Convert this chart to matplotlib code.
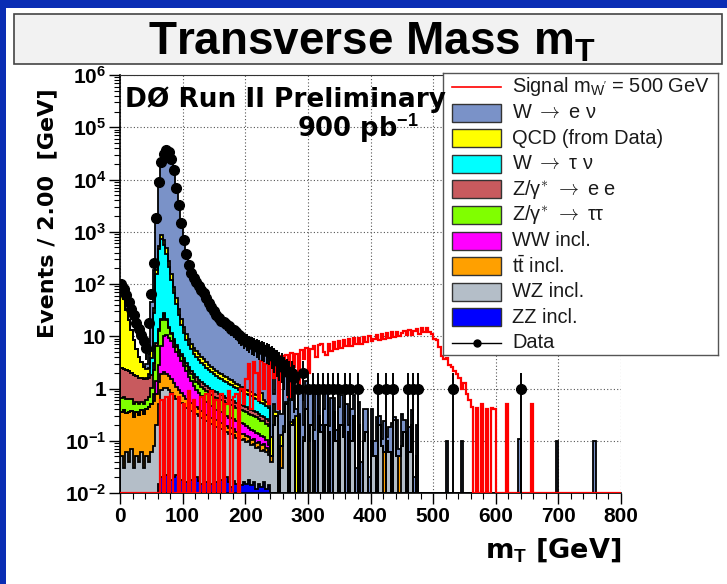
import numpy as np
import matplotlib
matplotlib.use("Agg")
import matplotlib.pyplot as plt
from matplotlib.patches import Rectangle
from matplotlib.ticker import MultipleLocator, LogLocator, NullFormatter

plt.rcParams['font.family'] = ['Liberation Sans', 'DejaVu Sans']
plt.rcParams['mathtext.fontset'] = 'custom'
plt.rcParams['mathtext.rm'] = 'Liberation Sans'
plt.rcParams['mathtext.it'] = 'Liberation Sans:italic'
plt.rcParams['mathtext.bf'] = 'Liberation Sans:bold'

W, H = 727, 584

# histogram binning: 4 GeV bins over 0-800 GeV, all lists start at mT = 0
bin_width = 4
n_bins = 200
floor = 1e-2

# ---- stacked backgrounds (events per bin), bottom of the stack first ----
zz = [0, 0, 0, 0, 0, 0, 0, 0, 0, 0, 0, 0, 0, 0, 0,
      0.015, 0.02, 0.025, 0.022, 0.02, 0.018, 0.02, 0.022, 0.02, 0.018,
      0.02, 0.016, 0.02, 0.018, 0.015, 0.02, 0.017, 0.015, 0.02, 0.016,
      0.018, 0.015, 0.02, 0.016, 0.014, 0.018, 0.015, 0.02, 0.016, 0.013,
      0.017, 0.015, 0.02, 0.014, 0.016, 0.015, 0.018, 0.014, 0.016, 0.012,
      0.015, 0.013, 0.016, 0.012, 0.014]

wz = [0.05, 0.03, 0.06, 0.04, 0.07, 0.03, 0.05, 0.04, 0.06, 0.03, 0.05, 0.04, 0.06, 0.08, 0.2,
      0.5, 0.9, 1.0, 1.0, 0.9, 0.8, 0.7, 0.6, 0.55, 0.5, 0.45, 0.4, 0.38, 0.35, 0.32,
      0.3, 0.28, 0.26, 0.24, 0.22, 0.2, 0.19, 0.18, 0.17, 0.16, 0.15, 0.14, 0.13, 0.12, 0.12,
      0.11, 0.1, 0.1, 0.09, 0.09, 0.08, 0.08, 0.07, 0.07, 0.06, 0.06, 0.05, 0.05, 0.05, 0.04,
      0.04, 0.2, 0.3, 0, 0.03, 0.15, 0.5, 0, 0.2, 0.25, 0, 0.3, 0, 0.1, 0.4,
      0, 0.2, 0.1, 0, 0.3, 0.15, 0, 0.2, 0.1, 0, 0.35, 0.1, 0, 0.2, 0.12,
      0, 0.15, 0.1, 0.3, 0, 0.12, 0, 0.1, 0.15, 0, 0.1, 0.05, 0, 0.2, 0.08,
      0, 0.1, 0.06, 0, 0.25, 0.05, 0, 0.08, 0.15, 0, 0.06, 0.2, 0, 0.05, 0]

ttbar = [0.3, 0.35, 0.28, 0.32, 0.3, 0.26, 0.3, 0.27, 0.32, 0.3, 0.35, 0.4, 0.45, 0.5, 0.6,
         0.8, 1.0, 1.0, 0.9, 0.8, 0.7, 0.55, 0.45, 0.35, 0.3, 0.25, 0.2, 0.17, 0.15, 0.13,
         0.12, 0.11, 0.1, 0.09, 0.08, 0.07, 0.07, 0.06, 0.06, 0.05, 0.05, 0.05, 0.04, 0.04, 0.04,
         0.04, 0.03, 0.03, 0.03, 0.03, 0.03, 0.02, 0.02, 0.02, 0.02, 0.02, 0.02, 0.02, 0.01, 0.01,
         0.01, 0, 0, 0, 0.05, 0, 0, 0, 0, 0, 0, 0, 0, 0, 0,
         0.1, 0, 0, 0, 0, 0, 0, 0, 0.05, 0, 0, 0, 0, 0, 0,
         0, 0, 0, 0, 0, 0.08, 0, 0, 0, 0, 0, 0, 0, 0, 0,
         0.06, 0, 0, 0, 0, 0, 0.05, 0, 0, 0, 0, 0, 0, 0, 0]

ww = [0, 0, 0, 0, 0, 0, 0, 0, 0, 0, 0, 0, 0, 0.2, 0.6,
      1.5, 4.5, 8.0, 8.5, 7.5, 6.5, 5.0, 4.0, 3.2, 2.6, 2.0, 1.5, 1.1, 0.85, 0.65,
      0.5, 0.4, 0.33, 0.27, 0.23, 0.2, 0.18, 0.16, 0.15, 0.14, 0.13, 0.12, 0.11, 0.1, 0.1,
      0.09, 0.09, 0.08, 0.08, 0.07, 0.07, 0.06, 0.06, 0.05, 0.05, 0.04, 0.04, 0.03, 0.03, 0.02]

ztautau = [0.3, 0.3, 0.28, 0.26, 0.25, 0.22, 0.2, 0.2, 0.18, 0.18, 0.2, 0.25, 0.5, 1.5, 5.0,
           10, 14, 17, 10, 5, 3, 1.8, 1.2, 0.9, 0.8, 0.7, 0.6, 0.55, 0.5, 0.45,
           0.42, 0.4, 0.38, 0.36, 0.34, 0.32, 0.3, 0.28, 0.27, 0.26, 0.25, 0.24, 0.23, 0.22, 0.21,
           0.2, 0.19, 0.18, 0.17, 0.17, 0.16, 0.15, 0.15, 0.14, 0.14, 0.13, 0.12, 0.12, 0.11, 0.11]

zee = [1.8, 1.7, 1.6, 1.5, 1.4, 1.3, 1.2, 1.1, 1.0, 1.0, 0.9, 0.9, 0.8, 0.8, 0.9,
       1.0, 1.2, 1.2, 1.0, 0.8, 0.7, 0.6, 0.55, 0.5, 0.45, 0.4, 0.38, 0.35, 0.33, 0.3,
       0.28, 0.26, 0.25, 0.24, 0.22, 0.21, 0.2, 0.19, 0.18, 0.17, 0.16, 0.15, 0.14, 0.13, 0.12,
       0.12, 0.11, 0.1, 0.1, 0.09, 0.09, 0.08, 0.08, 0.07, 0.07, 0.06, 0.06, 0.05, 0.05, 0.05]

wtaunu = [0, 0, 0, 0, 0, 0, 0, 0, 0, 0, 0.1, 0.3, 2, 25, 150,
          450, 700, 520, 360, 200, 110, 60, 34, 20, 12, 7.5, 5.5, 4.2, 3.4, 2.8,
          2.4, 2.1, 1.8, 1.6, 1.4, 1.25, 1.1, 1.0, 0.9, 0.8, 0.75, 0.7, 0.65, 0.6, 0.55,
          0.5, 0.47, 0.44, 0.4, 0.37, 0.35, 0.33, 0.31, 0.29, 0.27, 0.25, 0.23, 0.21, 0.2, 0.18]

qcd = [78, 50, 30, 18, 11, 6.5, 4, 2.4, 1.6, 1.1, 0.8, 0.6, 1.5, 6, 25,
       80, 160, 140, 100, 60, 35, 20, 12, 8, 5, 3.5, 2.6, 2.0, 1.6, 1.3,
       1.1, 1.0, 0.9, 0.8, 0.7, 0.6, 0.55, 0.5, 0.45, 0.4, 0.38, 0.35, 0.32, 0.3, 0.28,
       0.26, 0.24, 0.22, 0.2, 0.18, 0.16, 0.15, 0.14, 0.13, 0.12, 0.11, 0.3, 0.1, 0.09, 0.08,
       0.07, 0.3, 0.06, 0.05, 0.05, 0.04, 0.04, 0, 0.03, 0, 0.3, 0.03, 0, 0.02, 0]

wenu = [0, 0, 0, 0, 0, 0, 0, 0, 0, 0, 0.5, 2, 40, 150, 1300,
        8400, 21000, 31400, 35500, 33700, 24800, 14900, 6950, 3150, 1480, 690, 370, 222, 158, 124,
        103, 88, 74, 63, 52, 42, 34, 28, 23, 20, 18, 16.5, 15, 13.8, 12.5,
        11.5, 10.5, 9.2, 8.3, 7.5, 7.0, 6.6, 6.2, 6.0, 5.6, 5.3, 5.0, 4.8, 4.5, 4.3,
        4.0, 0.3, 3.6, 2.6, 0.2, 2.2, 2.4, 0.15, 1.9, 1.2, 0.1, 1.3, 0.9, 0.08, 1.0,
        0.7, 0.9, 0.06, 0.8, 0.6, 0.05, 0.4, 0.7, 0.04, 0.65, 0.3, 0.06, 0.45, 0.55, 0.03,
        0.5, 0.05, 0.3, 0.45, 0.03, 0.35, 0.04, 0.3, 0.25, 0.02, 0.3, 0.05, 0.28, 0.1, 0.03,
        0.18, 0.02, 0.12, 0.22, 0.04, 0.2, 0.02, 0.25, 0.1, 0.03, 0.12, 0.18, 0.02, 0.15, 0]
# isolated W -> e nu tail entries beyond 480 GeV
wenu_far_mt = [520, 544, 636, 696, 756]
wenu_far = [0.1, 0.1, 0.11, 0.1, 0.1]

# ---- signal W' (m = 500 GeV) ----
signal = [0, 0, 0, 0, 0, 0, 0, 0, 0, 0, 0, 0, 0, 0, 0, 0,
          0.6, 0, 0.7, 0,
          0.8, 0, 0, 0.7, 0, 0.5, 0, 0.9, 0, 0.6,
          0, 0, 0.7, 0, 0.8, 0, 0.9, 0, 0.6, 0,
          0.8, 0, 0.5, 0.9, 0, 0.7, 0.8, 0, 1.0, 0.5,
          1.5, 3.0, 0.4, 3.2, 2.0, 0.6, 3.4, 1.0, 3.0, 0.5,
          3.6, 1.6, 3.8, 0.4, 4.2, 1.8, 4.4, 0.7, 4.8, 2.6,
          4.6, 1.2, 5.4, 3.6, 6.0, 2.0, 5.6, 6.6, 4.0, 6.8,
          7.0, 5.0, 4.4, 7.2, 5.2, 7.6, 5.6, 8.0, 6.0, 8.4,
          6.4, 8.8, 6.6, 9.2, 7.0, 9.4, 7.2, 9.8, 7.6, 10.2,
          8.0, 9.0, 10.6, 8.4, 11.0, 8.8, 11.4, 9.4, 11.8, 9.6,
          12.2, 10.0, 11.6, 12.8, 10.4, 13.2, 10.8, 12.4, 13.8, 11.2,
          14.2, 11.8, 14.4, 12.0, 11.0, 9.0, 8.4, 6.2, 4.2, 3.6,
          3.9, 2.8, 2.6, 2.2, 1.9, 1.6, 1.0, 1.3, 0.8, 0.6,
          0.45, 0, 0.42, 0, 0.5, 0, 0.4, 0, 0.42, 0.4,
          0, 0, 0, 0, 0.5, 0, 0, 0, 0, 0,
          0, 0, 0, 0, 0.5, 0]

# ---- data ----
data_counts = [100, 80, 62, 45, 33, 25, 18, 14, 10.5, 8, 6, 18, 65, 250, 1800,
               9000, 22000, 31000, 36000, 34000, 25000, 15000, 7000, 3200, 1500, 700, 380, 230, 165, 130,
               108, 92, 78, 66, 54, 44, 36, 30, 25, 22, 20, 18.5, 17, 15.5, 14,
               13, 12, 10.5, 9.5, 8.5, 8, 7.5, 7, 6.8, 6.4, 6, 5.8, 5.5, 5.2, 5,
               4.5, 4, 3.5, 3.2, 3, 2.5, 2.2, 2, 2, 1.6]
data_single_mt = [282, 290, 298, 306, 314, 322, 330, 338, 346, 358,
                  366, 378, 410, 422, 434, 458, 466, 474, 530, 638]
data_single_n = [1, 2, 1, 1, 1, 1, 1, 1, 1, 1, 1, 1, 1, 1, 1, 1, 1, 1, 1, 1]

names = ["Signal m$_{\\mathrm{W'}}$ = 500 GeV", "W $\\rightarrow$ e ν", "QCD (from Data)",
         "W $\\rightarrow$ τ ν", "Z/γ$^{*}$ $\\rightarrow$ e e", "Z/γ$^{*}$ $\\rightarrow$ ττ",
         "WW incl.", "t$\\bar{\\mathrm{t}}$ incl.", "WZ incl.", "ZZ incl.", "Data"]
colors = ['#7a92c8', '#ffff00', '#00ffff', '#c85a5e', '#80ff00',
          '#ff00ff', '#ffa000', '#b4bec8', '#0000ff']   # W->enu ... ZZ


def padded(vals):
    out = np.zeros(n_bins)
    out[:len(vals)] = vals
    return out


edges = np.arange(0, n_bins + 1) * bin_width
wenu_full = padded(wenu)
wenu_full[np.array(wenu_far_mt) // bin_width] = wenu_far

layers = [padded(zz), padded(wz), padded(ttbar), padded(ww), padded(ztautau),
          padded(zee), padded(wtaunu), padded(qcd), wenu_full]
stack = np.cumsum(np.vstack(layers), axis=0)
layer_colors = colors[::-1]

fig = plt.figure(figsize=(W / 100, H / 100), dpi=100, facecolor='#0a2db4')
fig.add_artist(Rectangle((6 / W, 0), 1 - 6 / W, 1 - 8 / H, transform=fig.transFigure,
                         facecolor='white', edgecolor='none', zorder=-10))
fig.add_artist(Rectangle((14 / W, 1 - 64 / H), 708 / W, 50 / H, transform=fig.transFigure,
                         facecolor='#f2f2f2', edgecolor='#444444', lw=1.2, zorder=-5))
fig.text(372 / W, 1 - 55 / H, r"Transverse Mass m$_{\mathbf{T}}$", ha='center', va='baseline',
         fontsize=33, fontweight='bold')

ax = fig.add_axes([120 / W, 1 - 493 / H, 501 / W, 418 / H])
ax.set_yscale('log')
ax.set_xlim(0, 800)
ax.set_ylim(floor, 1e6)
ax.set_axisbelow(True)
ax.grid(True, which='major', ls=(0, (1, 2)), color='#555555', lw=0.8)

# stacked histograms, outermost first so the lower layers sit on top
for k in range(len(layers) - 1, -1, -1):
    top = np.maximum(stack[k], floor)
    ax.stairs(top, edges, baseline=floor, fill=True, color=layer_colors[k], zorder=1)
    ax.stairs(top, edges, baseline=floor, color='black', lw=1.3, zorder=1.1)

sig = np.maximum(padded(signal), floor)
ax.stairs(sig, edges, baseline=None, color='red', lw=1.6, zorder=3)

n_dense = np.array(data_counts, dtype=float)
x_dense = edges[:len(n_dense)] + bin_width / 2
x_data = np.concatenate([x_dense, np.array(data_single_mt) + bin_width / 2])
n_data = np.concatenate([n_dense, np.array(data_single_n, dtype=float)])
err = np.sqrt(n_data)
err_lo = n_data - np.maximum(n_data - err, floor)
ax.errorbar(x_data, n_data, yerr=[err_lo, err], fmt='o', color='black', ms=7,
            elinewidth=1.4, capsize=0, zorder=4)

ax.set_xticks(np.arange(0, 801, 100))
ax.xaxis.set_minor_locator(MultipleLocator(20))
ax.set_xticklabels([str(v) for v in range(0, 801, 100)], fontsize=15, fontweight='bold')
ax.set_yticks([1e-2, 1e-1, 1, 10, 1e2, 1e3, 1e4, 1e5, 1e6])
ax.set_yticklabels([r"$\mathbf{10^{-2}}$", r"$\mathbf{10^{-1}}$", "1", "10", r"$\mathbf{10^{2}}$",
                    r"$\mathbf{10^{3}}$", r"$\mathbf{10^{4}}$", r"$\mathbf{10^{5}}$",
                    r"$\mathbf{10^{6}}$"], fontsize=15, fontweight='bold')
ax.yaxis.set_minor_locator(LogLocator(base=10, subs=np.arange(2, 10)))
ax.yaxis.set_minor_formatter(NullFormatter())
ax.tick_params(which='major', direction='out', length=8, width=1, pad=2)
ax.tick_params(which='minor', direction='out', length=4, width=0.8)
ax.spines['right'].set_visible(False)
ax.spines['top'].set_color('#333333')
for s in ('left', 'bottom'):
    ax.spines[s].set_linewidth(1.2)

fig.text(125 / W, 1 - 107 / H, "DØ Run II Preliminary", family='DejaVu Sans',
         fontweight='bold', fontsize=19, va='baseline')
fig.text(297 / W, 1 - 138 / H, r"900 pb$^{\mathbf{-1}}$", family='DejaVu Sans',
         fontweight='bold', fontsize=18.5, va='baseline')
fig.text(47 / W, 1 - 88 / H, "Events / 2.00  [GeV]", rotation=90, ha='center', va='top',
         family='DejaVu Sans', fontweight='bold', fontsize=16)
fig.text(621 / W, 1 - 558 / H, r"m$_{\mathbf{T}}$ [GeV]", ha='right', va='baseline',
         family='DejaVu Sans', fontweight='bold', fontsize=19.5)

# legend box
lax = fig.add_axes([443 / W, 1 - 355 / H, 275 / W, 282 / H])
lax.set_xlim(0, 275)
lax.set_ylim(282, 0)
lax.set_xticks([])
lax.set_yticks([])
for s in lax.spines.values():
    s.set_color('#555555')
    s.set_linewidth(1.0)
for i, label in enumerate(names):
    yc = 14 + 25.6 * i
    if i == 0:
        lax.plot([9, 58], [yc, yc], color='red', lw=1.2)
    elif i == len(names) - 1:
        lax.plot([9, 58], [yc, yc], color='black', lw=1.0)
        lax.plot([33.5], [yc], 'o', color='black', ms=5)
    else:
        lax.add_patch(Rectangle((9, yc - 9), 49, 18, facecolor=colors[i - 1],
                                edgecolor='#333333', lw=1.0))
    mfont = 'cm' if 'rightarrow' in label else 'custom'
    lax.text(69, yc, label, va='center', ha='left', fontsize=14.4, color='#1a1a1a',
             math_fontfamily=mfont)

fig.savefig("out.png", dpi=100, facecolor=fig.get_facecolor())
